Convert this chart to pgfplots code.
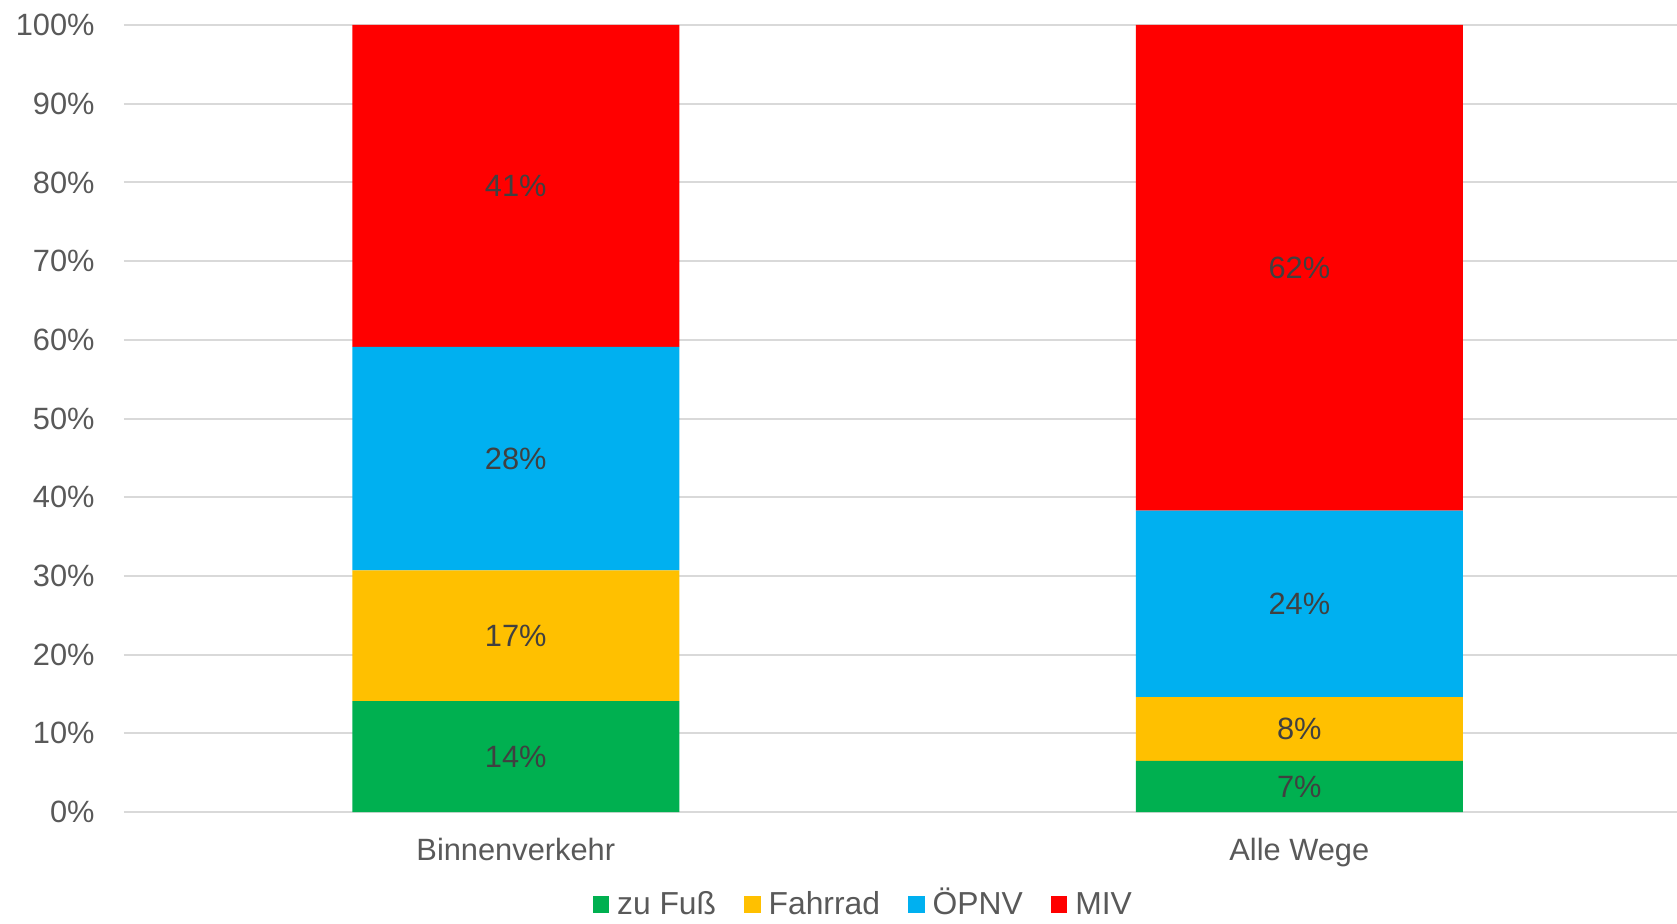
\documentclass[border=0pt]{standalone}
\usepackage{pgfplots}
\pgfplotsset{compat=1.18}
\usepackage{pgfplotstable}
\usepackage{fontspec}
\setmainfont{Liberation Sans}
\definecolor{cGreen}{HTML}{00B050}
\definecolor{cYellow}{HTML}{FFC000}
\definecolor{cBlue}{HTML}{00B0F0}
\definecolor{cRed}{HTML}{FF0000}
\definecolor{tickgray}{HTML}{595959}
\definecolor{labelgray}{HTML}{404040}
\definecolor{gridgray}{HTML}{D9D9D9}
\pgfplotstableread{
x v lab
0 14.1 14
1 6.5 7
}\fuss
\pgfplotstableread{
x v lab
0 16.6 17
1 8.1 8
}\rad
\pgfplotstableread{
x v lab
0 28.4 28
1 23.7 24
}\oepnv
\pgfplotstableread{
x v lab
0 40.9 41
1 61.7 62
}\miv
\newcommand{\chartfont}{\fontsize{15.4}{18}\selectfont}
\newcommand{\legendfont}{\fontsize{15.9}{18}\selectfont}
\begin{document}
\begin{tikzpicture}
\begin{axis}[
  name=ax, at={(0,0)}, anchor=south west,
  scale only axis, width=776.5pt, height=393.5pt,
  ybar stacked, bar width=163.5pt,
  xmin=-0.5, xmax=1.482, ymin=0, ymax=100,
  xtick={0,1}, xticklabels={Binnenverkehr, Alle Wege},
  ytick={0,10,...,100},
  yticklabel={\pgfmathprintnumber{\tick}\%},
  ymajorgrids, grid style={draw=gridgray, line width=1pt},
  axis line style={draw=none},
  major tick length=0pt,
  tick label style={font=\chartfont, text=tickgray},
  /pgf/number format/assume math mode=true,
  yticklabel style={anchor=east, inner sep=0pt, xshift=-14.5pt},
  xticklabel style={anchor=north, inner sep=0pt, yshift=-12.7pt},
  legend columns=4,
  legend style={draw=none, fill=none, at={(0.476,-0.1205)}, anchor=center,
    font=\legendfont, text=tickgray,
    nodes={text height=11pt, text depth=3pt, inner sep=1pt},
    /tikz/every odd column/.style={column sep=3pt},
    /tikz/every even column/.style={column sep=13pt}},
  legend image code/.code={\fill[#1] (0pt,-3pt) rectangle (8.3pt,5.3pt);},
  point meta=explicit,
  nodes near coords={\pgfmathprintnumber{\pgfplotspointmeta}\%},
  every node near coord/.append style={anchor=center,
    font=\chartfont, text=labelgray, inner sep=0pt},
]
\addplot[fill=cGreen, draw=none] table[x=x, y=v, meta=lab] {\fuss};
\addlegendentry{zu Fuß}
\addplot[fill=cYellow, draw=none] table[x=x, y=v, meta=lab] {\rad};
\addlegendentry{Fahrrad}
\addplot[fill=cBlue, draw=none] table[x=x, y=v, meta=lab] {\oepnv};
\addlegendentry{ÖPNV}
\addplot[fill=cRed, draw=none] table[x=x, y=v, meta=lab] {\miv};
\addlegendentry{MIV}
\end{axis}
\pgfresetboundingbox
\path (-62pt,-55.5pt) rectangle (776.5pt,406pt);
\end{tikzpicture}
\end{document}
